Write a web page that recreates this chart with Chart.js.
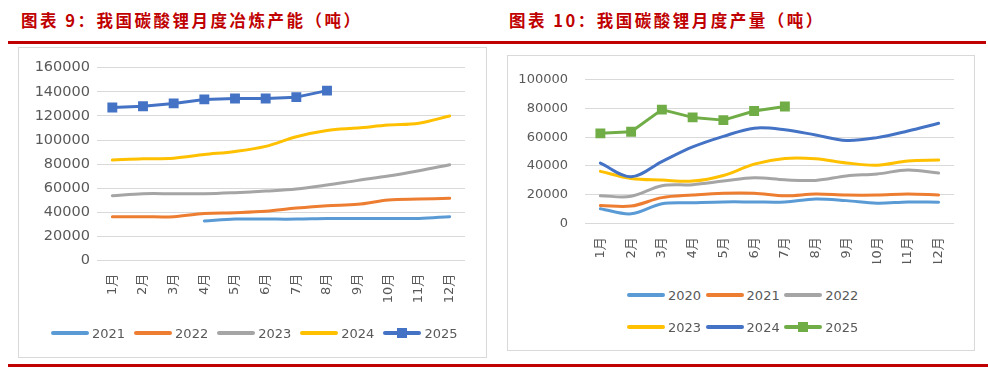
<!DOCTYPE html>
<html><head><meta charset="utf-8">
<script src="https://cdn.jsdelivr.net/npm/chart.js@4/dist/chart.umd.min.js"></script>
<style>
html,body{margin:0;padding:0;background:#fff;}
body{width:988px;height:368px;position:relative;overflow:hidden;font-family:"DejaVu Sans","Noto Sans CJK SC",sans-serif;}
.title{position:absolute;top:8px;font-family:"Noto Sans CJK SC",sans-serif;font-weight:bold;font-size:16.5px;letter-spacing:2.5px;color:#C00000;line-height:24px;white-space:nowrap;}
.rule{position:absolute;background:#C00000;}
.box{position:absolute;border:1px solid #D9D9D9;box-sizing:border-box;background:#fff;}
.cv{position:absolute;}
.legend{position:absolute;display:flex;align-items:center;height:20px;white-space:nowrap;}
.item{display:flex;align-items:center;}
.sample{position:relative;width:38px;height:4px;border-radius:2px;}
.mk{position:absolute;left:14px;top:-3px;width:10px;height:10px;}
.txt{margin-left:3px;font-family:"DejaVu Sans",sans-serif;font-size:13px;color:#595959;}
</style></head>
<body>
<div class="title" style="left:21px;">图表 9：我国碳酸锂月度冶炼产能（吨）</div>
<div class="title" style="left:509px;">图表 10：我国碳酸锂月度产量（吨）</div>
<div class="rule" style="left:8px;top:41px;width:978px;height:3px;"></div>
<div class="rule" style="left:8px;top:364px;width:980px;height:3px;"></div>
<div class="box" style="left:18px;top:47px;width:469px;height:311px;"></div>
<div class="box" style="left:507px;top:55px;width:468px;height:296px;"></div>
<canvas id="c1" class="cv" width="469" height="280" style="left:18px;top:47px;width:469px;height:280px;"></canvas>
<canvas id="c2" class="cv" width="468" height="225" style="left:507px;top:55px;width:468px;height:225px;"></canvas>
<div id="lg1" class="legend" style="left:51px;top:323px;gap:9px;"></div>
<div id="lg2a" class="legend" style="left:627px;top:285px;gap:4.5px;"></div>
<div id="lg2b" class="legend" style="left:627px;top:317px;gap:4.5px;"></div>
<script>
// ---- data ----
const months = ['1月','2月','3月','4月','5月','6月','7月','8月','9月','10月','11月','12月'];

// Chart 9: monthly smelting capacity (t)
const capYears = ['2021','2022','2023','2024','2025'];
const cap2021 = [null,null,null,32900,34500,34500,34500,35000,35000,35000,35000,36500];
const cap2022 = [36500,36500,36500,39200,39800,40900,43600,45600,46700,50300,51100,51700];
const cap2023 = [53900,55500,55500,55500,56400,57700,59400,62700,66600,70200,74600,79600];
const cap2024 = [83400,84500,85000,88000,90600,94800,102800,108000,110000,112400,114000,120000];
const cap2025 = [127000,128000,130400,133700,134500,134500,135600,141000];

// Chart 10: monthly production (t)
const prodYears = ['2020','2021','2022','2023','2024','2025'];
const prod2020 = [10200,6600,13600,14300,14900,14900,14900,17000,15800,14000,14900,14700];
const prod2021 = [12400,12000,17900,19700,21000,21000,19200,20400,19700,19700,20400,19700];
const prod2022 = [19200,18800,26200,26900,29400,31700,30300,29900,33000,34400,37100,35000];
const prod2023 = [36200,31200,30100,29400,33300,41200,45200,45000,42100,40500,43400,44100];
const prod2024 = [41900,32400,43000,53200,60600,66300,65200,61500,57700,59700,64300,69700];
const prod2025 = [62700,63800,79200,73800,71900,78300,81400];

const capTicks = {min:0, max:160000, step:20000};
const prodTicks = {min:0, max:100000, step:20000};

// ---- styles ----
const LBLUE='#5B9BD5', ORANGE='#ED7D31', GRAY='#A5A5A5', GOLD='#FFC000', BLUE='#4472C4', GREEN='#70AD47';
const capColors = [LBLUE, ORANGE, GRAY, GOLD, BLUE];
const prodColors = [LBLUE, ORANGE, GRAY, GOLD, BLUE, GREEN];

function makeDs(label, data, color, idx, n, marker){
  return {
    label, data, borderColor: color, backgroundColor: color,
    borderWidth: 3, tension: marker ? 0 : 0.35, spanGaps: false,
    pointRadius: marker ? 7 : 0, pointHoverRadius: marker ? 7 : 0,
    pointStyle: 'rect', pointBorderWidth: 0, order: n - idx,
    borderCapStyle: 'round', borderJoinStyle: 'round'
  };
}

function makeOptions(t, yWidth, yFont, yPad, xH, xPad, padding){
  return {
    responsive:false, animation:false, devicePixelRatio:1,
    layout:{padding},
    plugins:{legend:{display:false}, tooltip:{enabled:false}, title:{display:false}},
    scales:{
      x:{offset:true, grid:{display:false, drawTicks:false}, border:{display:false},
         ticks:{minRotation:90, maxRotation:90, autoSkip:false, padding:xPad, color:'#595959',
                font:{family:'"DejaVu Sans","Noto Sans CJK SC"', size:13}},
         afterFit:a=>{a.height=xH;}},
      y:{min:t.min, max:t.max, grid:{color:'#D9D9D9', lineWidth:1, drawTicks:false}, border:{display:false},
         ticks:{stepSize:t.step, padding:yPad, color:'#595959', font:{family:'"DejaVu Sans"', size:yFont},
                callback:v=>String(v)},
         afterFit:a=>{a.width=yWidth;}}
    }
  };
}

const capData = [cap2021, cap2022, cap2023, cap2024, cap2025];
new Chart(document.getElementById('c1'), {
  type:'line',
  data:{labels:months, datasets: capData.map((d,i)=>makeDs(capYears[i], d, capColors[i], i, capData.length, i===4))},
  options: makeOptions(capTicks, 79, 14.5, 7, 50, 13, {left:0, right:22, top:20.7, bottom:16.3})
});

const prodData = [prod2020, prod2021, prod2022, prod2023, prod2024, prod2025];
new Chart(document.getElementById('c2'), {
  type:'line',
  data:{labels:months, datasets: prodData.map((d,i)=>makeDs(prodYears[i], d, prodColors[i], i, prodData.length, i===5))},
  options: makeOptions(prodTicks, 78, 13, 17, 40, 14, {left:0, right:21, top:21, bottom:16.7})
});

// ---- HTML legends ----
function fillLegend(el, names, colors, markerIdx){
  names.forEach((nm,i)=>{
    const it=document.createElement('span'); it.className='item';
    const s=document.createElement('span'); s.className='sample'; s.style.background=colors[i];
    if(i===markerIdx){const m=document.createElement('span'); m.className='mk'; m.style.background=colors[i]; s.appendChild(m);}
    const t=document.createElement('span'); t.className='txt'; t.textContent=nm;
    it.appendChild(s); it.appendChild(t); el.appendChild(it);
  });
}
fillLegend(document.getElementById('lg1'), capYears, capColors, 4);
fillLegend(document.getElementById('lg2a'), prodYears.slice(0,3), prodColors.slice(0,3), -1);
fillLegend(document.getElementById('lg2b'), prodYears.slice(3), prodColors.slice(3), 2);
</script>
</body></html>
